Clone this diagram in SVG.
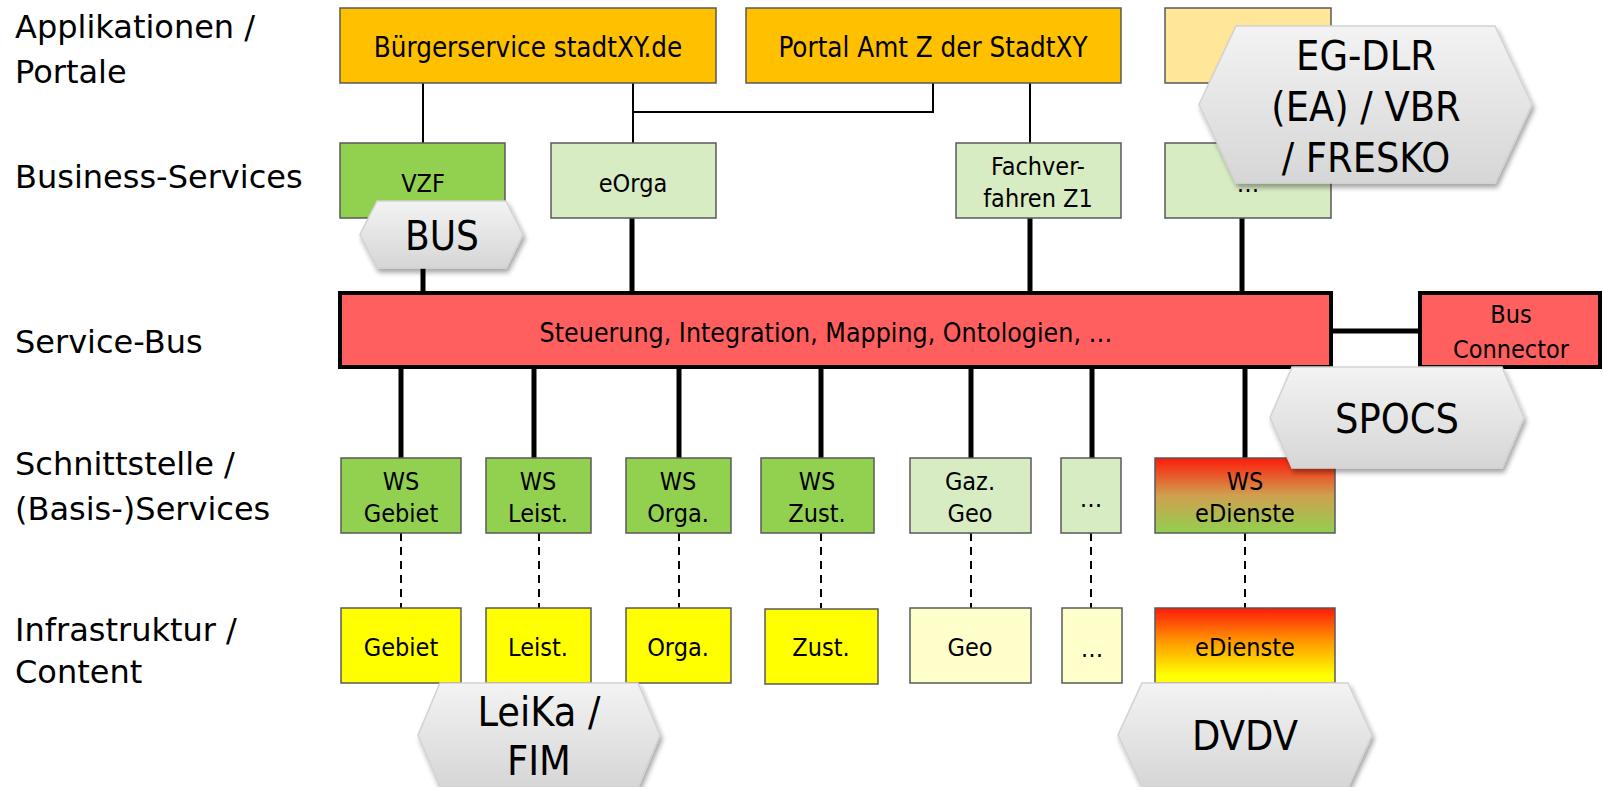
<svg xmlns="http://www.w3.org/2000/svg" width="1603" height="787" viewBox="0 0 1603 787">
<defs>
<linearGradient id="gHex" x1="0" y1="0" x2="0" y2="1">
<stop offset="0" stop-color="#f3f3f3"/>
<stop offset="1" stop-color="#d6d6d6"/>
</linearGradient>
<linearGradient id="gWsE" x1="0" y1="0" x2="0" y2="1">
<stop offset="0" stop-color="#ff1a0a"/>
<stop offset="0.5" stop-color="#cfa050"/>
<stop offset="1" stop-color="#92d050"/>
</linearGradient>
<linearGradient id="gInE" x1="0" y1="0" x2="0" y2="1">
<stop offset="0" stop-color="#ff1a0a"/>
<stop offset="0.45" stop-color="#ff9900"/>
<stop offset="0.9" stop-color="#ffff00"/>
</linearGradient>
<filter id="sh" x="-10%" y="-10%" width="125%" height="130%">
<feGaussianBlur in="SourceAlpha" stdDeviation="2.5"/>
<feOffset dx="2" dy="4" result="o"/>
<feComponentTransfer><feFuncA type="linear" slope="0.35"/></feComponentTransfer>
<feMerge><feMergeNode/><feMergeNode in="SourceGraphic"/></feMerge>
</filter>
</defs>
<style>
text{font-family:"DejaVu Sans Condensed","DejaVu Sans",sans-serif;fill:#000;}
.lbl{font-family:"DejaVu Sans",sans-serif;font-size:32px;}
.bx{stroke:#595959;stroke-width:1.5;}
.t{font-size:27.5px;text-anchor:middle;}
.b{font-size:26.5px;text-anchor:middle;}
.s{font-size:25px;text-anchor:middle;}
.hx{fill:url(#gHex);stroke:#d2d2d2;stroke-width:1.5;filter:url(#sh);}
.ht{font-size:41px;text-anchor:middle;}
.thin{stroke:#000;stroke-width:2;fill:none;}
.thick{stroke:#000;stroke-width:5;fill:none;}
.dash{stroke:#000;stroke-width:2;stroke-dasharray:8 6;fill:none;}
</style>
<rect width="1603" height="787" fill="#fff"/>

<g id="labels">
<text class="lbl" x="15" y="38">Applikationen /</text>
<text class="lbl" x="15" y="83">Portale</text>
<text class="lbl" x="15" y="188">Business-Services</text>
<text class="lbl" x="15" y="353">Service-Bus</text>
<text class="lbl" x="15" y="475">Schnittstelle /</text>
<text class="lbl" x="15" y="520">(Basis-)Services</text>
<text class="lbl" x="15" y="641">Infrastruktur /</text>
<text class="lbl" x="15" y="683">Content</text>
</g>

<g id="connectors">
<line class="thin" x1="423" y1="83" x2="423" y2="143"/>
<line class="thin" x1="633" y1="83" x2="633" y2="143"/>
<polyline class="thin" points="633,112 933,112 933,83"/>
<line class="thin" x1="1030" y1="83" x2="1030" y2="143"/>
<line class="thick" x1="423" y1="218" x2="423" y2="293"/>
<line class="thick" x1="632" y1="218" x2="632" y2="293"/>
<line class="thick" x1="1030" y1="218" x2="1030" y2="293"/>
<line class="thick" x1="1242" y1="218" x2="1242" y2="293"/>
<line class="thick" x1="1331" y1="331" x2="1420" y2="331"/>
<line class="thick" x1="401" y1="367" x2="401" y2="458"/>
<line class="thick" x1="534" y1="367" x2="534" y2="458"/>
<line class="thick" x1="679" y1="367" x2="679" y2="458"/>
<line class="thick" x1="821" y1="367" x2="821" y2="458"/>
<line class="thick" x1="971" y1="367" x2="971" y2="458"/>
<line class="thick" x1="1092" y1="367" x2="1092" y2="458"/>
<line class="thick" x1="1245" y1="367" x2="1245" y2="458"/>
<line class="dash" x1="401" y1="533" x2="401" y2="608"/>
<line class="dash" x1="539" y1="533" x2="539" y2="608"/>
<line class="dash" x1="679" y1="533" x2="679" y2="608"/>
<line class="dash" x1="821" y1="533" x2="821" y2="608"/>
<line class="dash" x1="971" y1="533" x2="971" y2="608"/>
<line class="dash" x1="1091" y1="533" x2="1091" y2="608"/>
<line class="dash" x1="1245" y1="533" x2="1245" y2="608"/>
</g>

<g id="n-buergerservice"><rect class="bx" x="340" y="8" width="376" height="75" fill="#ffc000"/><text class="t" x="528" y="57">Bürgerservice stadtXY.de</text></g>
<g id="n-portal"><rect class="bx" x="746" y="8" width="375" height="75" fill="#ffc000"/><text class="t" x="933" y="57">Portal Amt Z der StadtXY</text></g>
<g id="n-app3"><rect class="bx" x="1165" y="8" width="166" height="75" fill="#ffe699"/></g>

<g id="n-vzf"><rect class="bx" x="340" y="143" width="165" height="75" fill="#92d050"/><text class="s" x="423" y="192">VZF</text></g>
<g id="n-eorga"><rect class="bx" x="551" y="143" width="165" height="75" fill="#d8ecc4"/><text class="s" x="633" y="192">eOrga</text></g>
<g id="n-fach"><rect class="bx" x="956" y="143" width="165" height="75" fill="#d8ecc4"/><text class="s" x="1038" y="175">Fachver-</text><text class="s" x="1038" y="207">fahren Z1</text></g>
<g id="n-bs4"><rect class="bx" x="1165" y="143" width="166" height="75" fill="#d8ecc4"/><text class="s" x="1248" y="192">…</text></g>

<g id="n-bus"><rect x="340" y="293" width="991" height="74" fill="#ff5f5f" stroke="#000" stroke-width="4"/><text class="b" x="826" y="342">Steuerung, Integration, Mapping, Ontologien, …</text></g>
<g id="n-busconn"><rect x="1420" y="293" width="180" height="74" fill="#ff5f5f" stroke="#000" stroke-width="4"/><text class="s" x="1511" y="323">Bus</text><text class="s" x="1511" y="358">Connector</text></g>

<g id="n-ws-gebiet"><rect class="bx" x="341" y="458" width="120" height="75" fill="#92d050"/><text class="s" x="401" y="490">WS</text><text class="s" x="401" y="522">Gebiet</text></g>
<g id="n-ws-leist"><rect class="bx" x="486" y="458" width="105" height="75" fill="#92d050"/><text class="s" x="538" y="490">WS</text><text class="s" x="538" y="522">Leist.</text></g>
<g id="n-ws-orga"><rect class="bx" x="626" y="458" width="105" height="75" fill="#92d050"/><text class="s" x="678" y="490">WS</text><text class="s" x="678" y="522">Orga.</text></g>
<g id="n-ws-zust"><rect class="bx" x="761" y="458" width="113" height="75" fill="#92d050"/><text class="s" x="817" y="490">WS</text><text class="s" x="817" y="522">Zust.</text></g>
<g id="n-gaz-geo"><rect class="bx" x="910" y="458" width="121" height="75" fill="#d8ecc4"/><text class="s" x="970" y="490">Gaz.</text><text class="s" x="970" y="522">Geo</text></g>
<g id="n-ws-more"><rect class="bx" x="1061" y="458" width="60" height="75" fill="#d8ecc4"/><text class="s" x="1091" y="507">…</text></g>
<g id="n-ws-edienste"><rect class="bx" x="1155" y="458" width="180" height="75" fill="url(#gWsE)"/><text class="s" x="1245" y="490">WS</text><text class="s" x="1245" y="522">eDienste</text></g>

<g id="n-gebiet"><rect class="bx" x="341" y="608" width="120" height="75" fill="#ffff00"/><text class="s" x="401" y="656">Gebiet</text></g>
<g id="n-leist"><rect class="bx" x="486" y="608" width="105" height="75" fill="#ffff00"/><text class="s" x="538" y="656">Leist.</text></g>
<g id="n-orga"><rect class="bx" x="626" y="608" width="105" height="75" fill="#ffff00"/><text class="s" x="678" y="656">Orga.</text></g>
<g id="n-zust"><rect class="bx" x="765" y="609" width="113" height="75" fill="#ffff00"/><text class="s" x="821" y="656">Zust.</text></g>
<g id="n-geo"><rect class="bx" x="910" y="608" width="121" height="75" fill="#ffffcc"/><text class="s" x="970" y="656">Geo</text></g>
<g id="n-more"><rect class="bx" x="1062" y="608" width="60" height="75" fill="#ffffcc"/><text class="s" x="1092" y="657">…</text></g>
<g id="n-edienste"><rect class="bx" x="1155" y="608" width="180" height="75" fill="url(#gInE)"/><text class="s" x="1245" y="656">eDienste</text></g>

<g id="h-bus"><path class="hx" d="M377,201 L506,201 L523,234.5 L506,268 L377,268 L360,234.5 Z"/><text class="ht" x="442" y="250" style="font-size:40px">BUS</text></g>
<g id="h-egdlr"><path class="hx" d="M1236,26 L1495,26 L1532,104.5 L1495,183 L1236,183 L1199,104.5 Z"/><text class="ht" x="1366" y="70">EG-DLR</text><text class="ht" x="1366" y="121">(EA) / VBR</text><text class="ht" x="1366" y="172">/ FRESKO</text></g>
<g id="h-spocs"><path class="hx" d="M1292,367 L1502,367 L1524,417.5 L1502,468 L1292,468 L1270,417.5 Z"/><text class="ht" x="1397" y="433">SPOCS</text></g>
<g id="h-leika"><path class="hx" d="M440,683 L638,683 L660,735 L638,787 L440,787 L418,735 Z"/><text class="ht" x="539" y="726">LeiKa /</text><text class="ht" x="539" y="775">FIM</text></g>
<g id="h-dvdv"><path class="hx" d="M1142,683 L1348,683 L1372,735 L1348,787 L1142,787 L1118,735 Z"/><text class="ht" x="1245" y="750">DVDV</text></g>
</svg>
